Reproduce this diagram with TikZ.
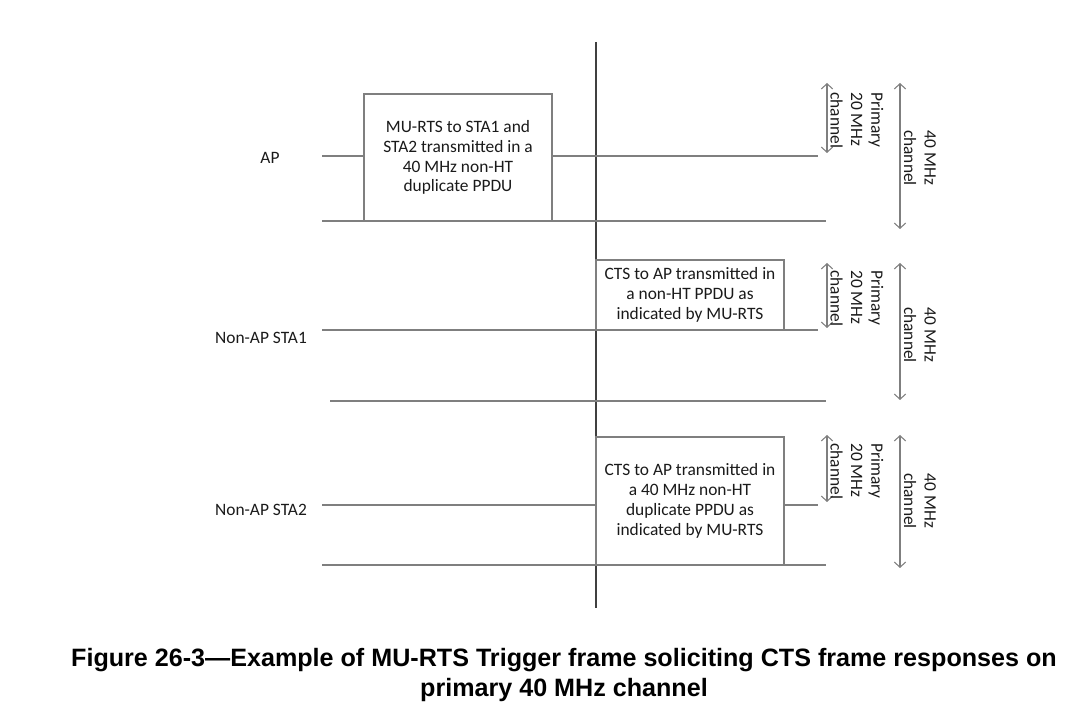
\documentclass[tikz,border=0pt]{standalone}
\usepackage{fontspec}
\setmainfont{Carlito}
\newfontfamily\capfont{Liberation Sans}
\usetikzlibrary{arrows.meta}

\definecolor{linegray}{HTML}{7F7F7F}
\definecolor{axisgray}{HTML}{404040}
\definecolor{txt}{HTML}{1A1A1A}

\tikzset{
  rowline/.style={draw=linegray, line width=0.8pt},
  ppdu/.style={draw=linegray, line width=0.8pt, fill=white, align=center,
    inner sep=0pt, minimum width=3.76cm, text=txt,
    font=\fontsize{9.9pt}{11.3pt}\selectfont},
  stalabel/.style={text=txt, font=\fontsize{9.9pt}{11.4pt}\selectfont},
  bw/.style={<->, >={Straight Barb[length=3pt,width=6.5pt]}, draw=linegray, line width=0.6pt},
  bwtext/.style={rotate=-90, text=txt, inner sep=0pt,
    font=\fontsize{9.9pt}{11.6pt}\selectfont}
}

\begin{document}
\begin{tikzpicture}[x=0.02cm, y=-0.02cm]
    \useasboundingbox (0,0) rectangle (1080,716);

    % time reference line
    \coordinate (tTop) at (596,42);
    \coordinate (tBot) at (596,608);
    \draw[axisgray, line width=0.8pt] (tTop) -- (tBot);

    % ================= AP =================
    \node[stalabel] (ap) at (270,158) {AP};
    \node[ppdu, minimum height=2.54cm] (rts) at (458,157.5)
        {MU-RTS to STA1 and\\STA2 transmitted in a\\40 MHz non-HT\\duplicate PPDU};
    \coordinate (apL) at (322,156);
    \coordinate (apR) at (818,156);
    \draw[rowline] (apL) -- (rts.west |- apL);
    \draw[rowline] (rts.east |- apR) -- (apR);
    \coordinate (apBL) at (322,221);
    \coordinate (apBR) at (826,221);
    \draw[rowline] (apBL) -- (apBR);

    % channel widths
    \coordinate (apP1) at (827,83);
    \coordinate (apP2) at (827,153);
    \coordinate (apW1) at (900,83);
    \coordinate (apW2) at (900,229);
    \draw[bw] (apP1) -- (apP2);
    \draw[bw] (apW1) -- (apW2);
    \node[bwtext, anchor=west, align=left] (apPtext) at (857,92) {Primary\\20 MHz\\channel};
    \node[bwtext, align=center] (apWtext) at (920,158) {40 MHz\\channel};

    % ================= STA1 =================
    \node[stalabel] (sta1) at (261,338) {Non-AP STA1};
    \node[ppdu, minimum height=1.4cm] (cts1) at (690,295)
        {CTS to AP transmitted in\\a non-HT PPDU as\\indicated by MU-RTS};
    \coordinate (s1L) at (322,330);
    \coordinate (s1R) at (818,330);
    \draw[rowline] (s1L) -- (s1R);
    \coordinate (s1BL) at (330,401);
    \coordinate (s1BR) at (826,401);
    \draw[rowline] (s1BL) -- (s1BR);

    \coordinate (s1P1) at (827,263);
    \coordinate (s1P2) at (827,328);
    \coordinate (s1W1) at (900,263);
    \coordinate (s1W2) at (900,400);
    \draw[bw] (s1P1) -- (s1P2);
    \draw[bw] (s1W1) -- (s1W2);
    \node[bwtext, anchor=west, align=left] (s1Ptext) at (857,270) {Primary\\20 MHz\\channel};
    \node[bwtext, align=center] (s1Wtext) at (920,335) {40 MHz\\channel};

    % ================= STA2 =================
    \node[stalabel] (sta2) at (261,510) {Non-AP STA2};
    \node[ppdu, minimum height=2.56cm] (cts2) at (690,501)
        {CTS to AP transmitted in\\a 40 MHz non-HT\\duplicate PPDU as\\indicated by MU-RTS};
    \coordinate (s2L) at (322,505);
    \coordinate (s2R) at (818,505);
    \draw[rowline] (s2L) -- (cts2.west |- s2L);
    \draw[rowline] (cts2.east |- s2R) -- (s2R);
    \coordinate (s2BL) at (322,565);
    \coordinate (s2BR) at (826,565);
    \draw[rowline] (s2BL) -- (s2BR);

    \coordinate (s2P1) at (827,435);
    \coordinate (s2P2) at (827,502);
    \coordinate (s2W1) at (900,435);
    \coordinate (s2W2) at (900,568);
    \draw[bw] (s2P1) -- (s2P2);
    \draw[bw] (s2W1) -- (s2W2);
    \node[bwtext, anchor=west, align=left] (s2Ptext) at (857,443) {Primary\\20 MHz\\channel};
    \node[bwtext, align=center] (s2Wtext) at (920,501) {40 MHz\\channel};

    % caption
    \node[align=center, font=\capfont\bfseries\fontsize{14.3pt}{16.6pt}\selectfont] (caption) at (564,675)
        {Figure 26-3—Example of MU-RTS Trigger frame soliciting CTS frame responses on\\primary 40 MHz channel};
\end{tikzpicture}
\end{document}
